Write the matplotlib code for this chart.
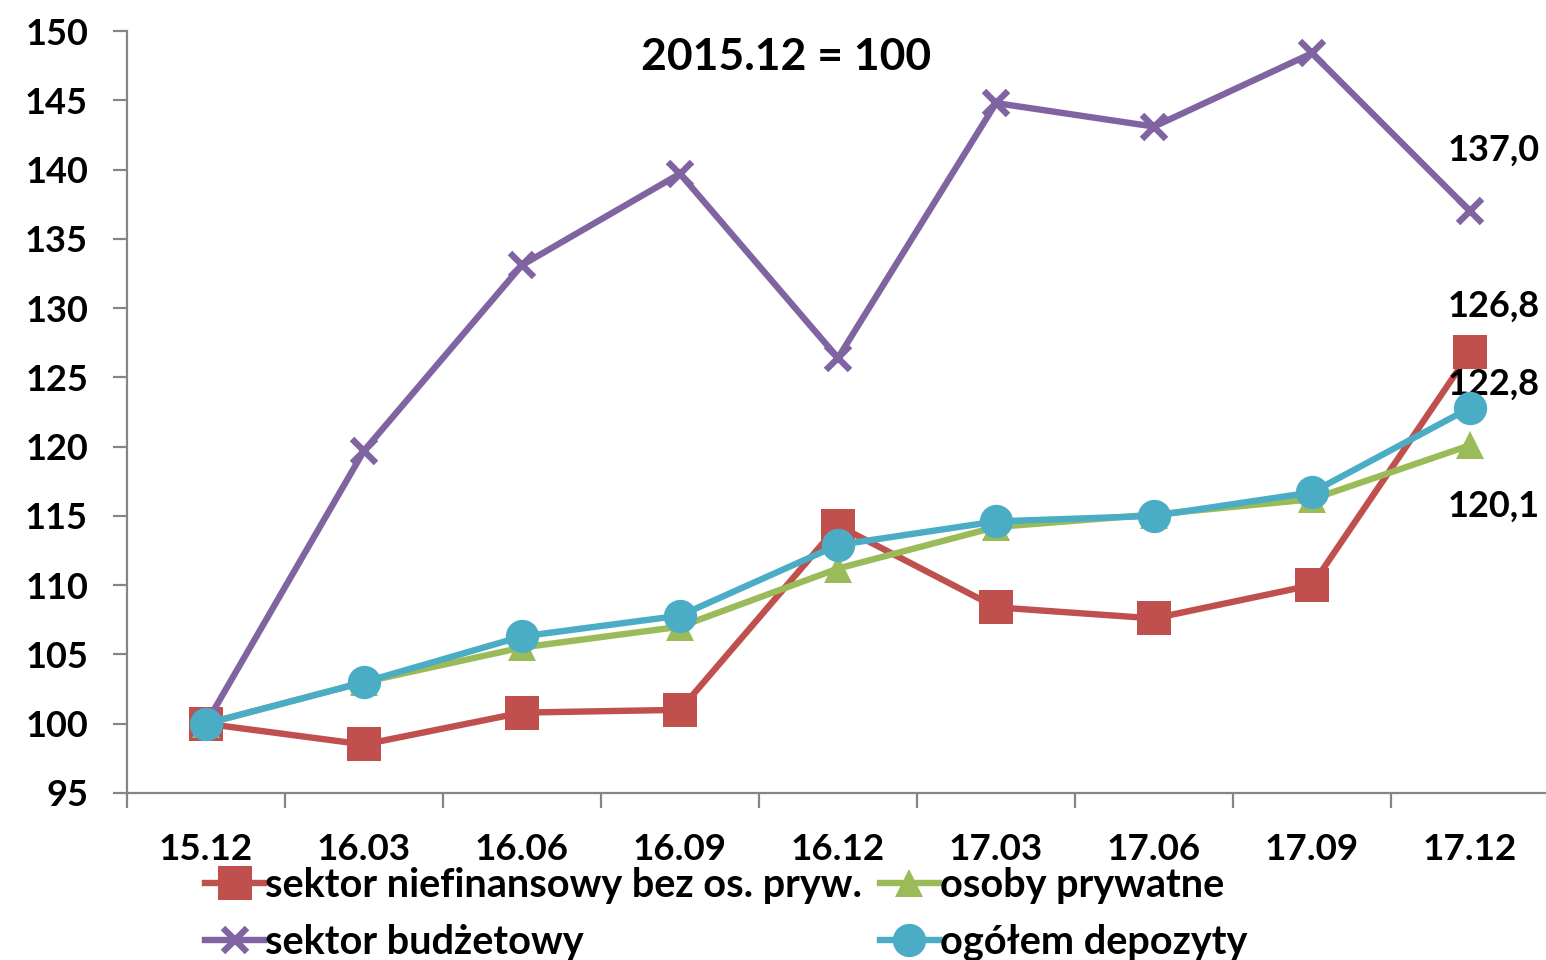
import matplotlib
matplotlib.use("Agg")
import matplotlib.pyplot as plt

periods = ["15.12", "16.03", "16.06", "16.09", "16.12", "17.03", "17.06", "17.09", "17.12"]
niefinansowy = [100.0, 98.5, 100.8, 101.0, 114.3, 108.4, 107.6, 110.0, 126.8]
prywatne = [100.0, 103.0, 105.5, 107.0, 111.2, 114.2, 115.1, 116.2, 120.1]
budzetowy = [100.0, 119.7, 133.1, 139.7, 126.4, 144.8, 143.1, 148.4, 137.0]
ogolem = [100.0, 103.0, 106.3, 107.8, 112.9, 114.6, 115.0, 116.7, 122.8]

names = ["sektor niefinansowy bez os. pryw.", "osoby prywatne",
         "sektor budżetowy", "ogółem depozyty"]
title = "2015.12 = 100"
yticks = [95, 100, 105, 110, 115, 120, 125, 130, 135, 140, 145, 150]

plt.rcParams["font.family"] = ["Lato", "DejaVu Sans"]
plt.rcParams["font.weight"] = "bold"

fig = plt.figure(figsize=(15.46, 9.6), dpi=100)
ax = fig.add_axes([0.0821, 0.174, 0.9199, 0.7937])

x = list(range(len(periods)))
lw = 4.6
h_red, = ax.plot(x, niefinansowy, color="#C0504D", lw=lw, marker="s", ms=24,
                 markeredgewidth=0, zorder=3)
h_pur, = ax.plot(x, budzetowy, color="#8064A2", lw=lw, marker="x", ms=17.5,
                 markeredgewidth=4.6, zorder=4)
h_grn, = ax.plot(x, prywatne, color="#9BBB59", lw=lw, marker="^", ms=20,
                 markeredgewidth=0, zorder=5)
h_blu, = ax.plot(x, ogolem, color="#4BACC6", lw=lw, marker="o", ms=24,
                 markeredgewidth=0, zorder=6)

ax.set_xlim(-0.5, len(periods) - 0.5)
ax.set_ylim(95, 150)
ax.set_yticks(yticks)
ax.set_yticklabels([str(v) for v in yticks], fontsize=26, fontweight="bold")
ax.set_xticks([i - 0.5 for i in range(len(periods) + 1)])
ax.set_xticklabels([])
ax.set_xticks(x, minor=True)
ax.set_xticklabels(periods, minor=True, fontsize=26.5, fontweight="bold")
ax.tick_params(axis="x", which="minor", length=0, pad=29)
ax.tick_params(axis="x", which="major", length=11, width=1.6, color="#858585")
ax.tick_params(axis="y", length=10, width=1.6, color="#858585", pad=18)

for side in ("top", "right"):
    ax.spines[side].set_visible(False)
for side in ("left", "bottom"):
    ax.spines[side].set_color("#858585")
    ax.spines[side].set_linewidth(1.6)

fig.text(0.5085, 0.941, title, ha="center", va="center", fontsize=32,
         fontweight="bold")

# end-of-period value labels
last = len(periods) - 1
label_offsets = [(budzetowy[-1], 4.4), (niefinansowy[-1], 3.3),
                 (ogolem[-1], 1.7), (prywatne[-1], -4.4)]
for val, dy in label_offsets:
    ax.text(last - 0.14, val + dy, f"{val:.1f}".replace(".", ","), ha="left",
            va="center", fontsize=26, fontweight="bold")

# two legend columns, placed separately
leg_kw = dict(loc="upper left", frameon=False, handlelength=1.5,
              handletextpad=0.02, labelspacing=0.5, borderaxespad=0,
              borderpad=0, prop={"weight": "bold", "size": 28.5})
fig.legend([h_red, h_pur], [names[0], names[2]],
           bbox_to_anchor=(0.1326, 0.097), **leg_kw)
fig.legend([h_grn, h_blu], [names[1], names[3]],
           bbox_to_anchor=(0.569, 0.097), **leg_kw)

fig.savefig("out.png", dpi=100)
